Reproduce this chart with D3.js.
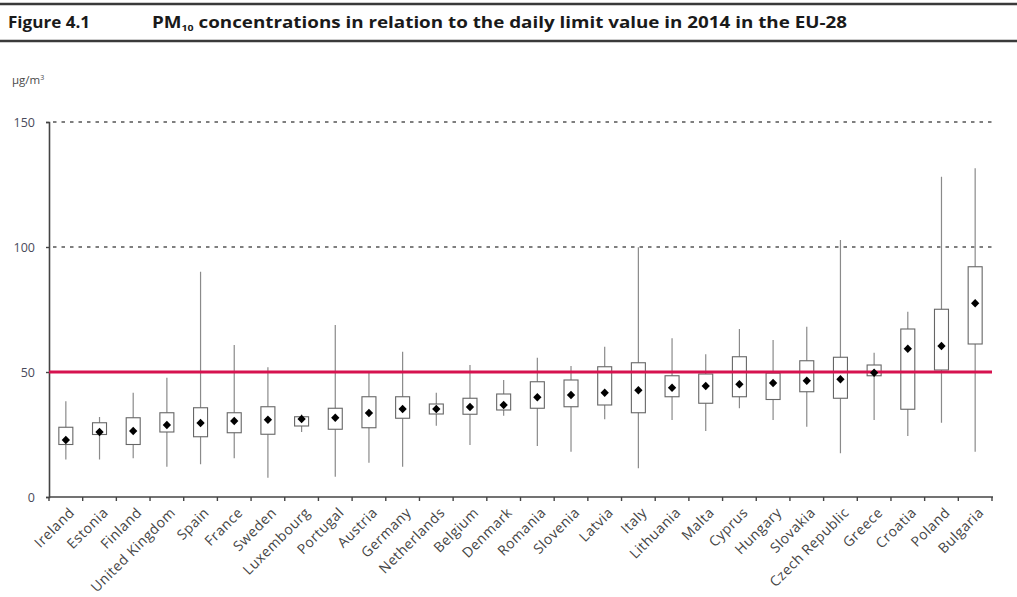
<!DOCTYPE html>
<html>
<head>
<meta charset="utf-8">
<script src="https://cdn.jsdelivr.net/npm/d3@7/dist/d3.min.js"></script>
<style>
  html, body { margin: 0; padding: 0; background: #fff; }
  svg { display: block; font-family: "Open Sans", "Noto Sans", sans-serif; }
</style>
</head>
<body>
<svg id="chart" width="1017" height="597"></svg>
<script>
// PM10 daily-limit statistics per member state, 2014 (µg/m³)
const countries = ["Ireland", "Estonia", "Finland", "United Kingdom", "Spain", "France", "Sweden",
  "Luxembourg", "Portugal", "Austria", "Germany", "Netherlands", "Belgium", "Denmark", "Romania",
  "Slovenia", "Latvia", "Italy", "Lithuania", "Malta", "Cyprus", "Hungary", "Slovakia",
  "Czech Republic", "Greece", "Croatia", "Poland", "Bulgaria"];
const minValues    = [15, 15, 15.5, 12.1, 13.1, 15.5, 7.7, 26, 8.1, 13.7, 12.1, 28.5, 20.8, 32.5, 20.4,
  18.1, 31.1, 11.5, 30.8, 26.4, 35.5, 30.8, 28.1, 17.5, 30.8, 24.4, 29.7, 18.1];
const p25Values    = [21, 25, 21, 26, 24.1, 25.7, 25.1, 28.4, 27.1, 27.7, 31.5, 33.2, 33.1, 34.8, 35.5,
  36.1, 36.8, 33.7, 40.1, 37.5, 40.1, 39, 42.1, 39.5, 48.5, 35.1, 50.8, 61.2];
const medianValues = [22.8, 26, 26.4, 28.8, 29.6, 30.4, 30.9, 31.2, 31.7, 33.6, 35.2, 35.2, 36, 36.8, 39.9,
  40.8, 41.7, 42.7, 43.7, 44.4, 45.1, 45.6, 46.5, 47.1, 49.7, 59.3, 60.4, 77.5];
const p75Values    = [27.9, 29.7, 31.7, 33.7, 35.7, 33.7, 36.1, 32.1, 35.5, 40.1, 40.1, 37.2, 39.5, 41.2, 46.1,
  46.8, 52.1, 53.7, 48.5, 49.2, 56.1, 49.6, 54.5, 55.9, 52.8, 67.2, 75.1, 92.1];
const maxValues    = [38.3, 32, 41.7, 47.7, 90.1, 60.8, 51.9, 33, 68.8, 50.1, 58.1, 41.7, 52.8, 46.8, 55.7,
  52.4, 60.1, 99.9, 63.5, 57.1, 67.2, 62.8, 68.1, 102.8, 57.7, 74.1, 128.1, 131.5];
const yTicks = [0, 50, 100, 150];
const gridValues = [100, 150];
const limitValue = 50;

const rows = countries.map((c, i) => ({
  country: c, min: minValues[i], p25: p25Values[i], median: medianValues[i],
  p75: p75Values[i], max: maxValues[i]
}));

const svg = d3.select("#chart");
const plot = { left: 49, right: 992, top: 122, bottom: 497 };

const x = d3.scaleBand().domain(countries).range([plot.left, plot.right]).padding(0);
const y = d3.scaleLinear().domain([0, 150]).range([plot.bottom, plot.top]);

// header rules and title
svg.append("line").attr("x1", 0).attr("x2", 1017).attr("y1", 4).attr("y2", 4)
  .attr("stroke", "#3a3a3a").attr("stroke-width", 2.5);
svg.append("line").attr("x1", 0).attr("x2", 1017).attr("y1", 41).attr("y2", 41)
  .attr("stroke", "#3a3a3a").attr("stroke-width", 2.5);
svg.append("text").attr("x", 8).attr("y", 28)
  .attr("font-size", 16).attr("font-weight", 700).attr("fill", "#1a1a1a")
  .attr("textLength", 82).attr("lengthAdjust", "spacingAndGlyphs")
  .text("Figure 4.1");
const title = svg.append("text").attr("x", 152).attr("y", 28)
  .attr("font-size", 16).attr("font-weight", 700).attr("fill", "#1a1a1a")
  .attr("textLength", 695).attr("lengthAdjust", "spacingAndGlyphs");
title.append("tspan").text("PM");
title.append("tspan").attr("font-size", 9).attr("dy", 3).text("10");
title.append("tspan").attr("dy", -3).text(" concentrations in relation to the daily limit value in 2014 in the EU-28");

// unit label
const unit = svg.append("text").attr("x", 12).attr("y", 84)
  .attr("font-size", 11.5).attr("fill", "#4a4a4a");
unit.append("tspan").text("µg/m");
unit.append("tspan").attr("font-size", 7).attr("dy", -4).text("3");

// dashed reference lines
svg.append("g").selectAll("line").data(gridValues).join("line")
  .attr("x1", plot.left + 4).attr("x2", plot.right)
  .attr("y1", d => y(d)).attr("y2", d => y(d))
  .attr("stroke", "#555").attr("stroke-width", 1.3).attr("stroke-dasharray", "3.5,5");

// y axis
const yAxis = svg.append("g").attr("transform", `translate(${plot.left},0)`)
  .call(d3.axisLeft(y).tickValues(yTicks).tickSize(3).tickPadding(11));
yAxis.select(".domain").attr("stroke", "#444").attr("stroke-width", 1.6);
yAxis.selectAll(".tick line").attr("stroke", "#444").attr("stroke-width", 1.4);
yAxis.selectAll(".tick text").attr("font-size", 12.5).attr("fill", "#4a4a5a")
  .attr("font-family", "'Open Sans', sans-serif");

// x axis with ticks at category boundaries
const xAxis = svg.append("g").attr("transform", `translate(0,${plot.bottom})`);
xAxis.append("line").attr("x1", plot.left).attr("x2", plot.right + 1)
  .attr("stroke", "#444").attr("stroke-width", 1.6);
const boundaries = countries.map(c => x(c)).concat([x.range()[1]]);
xAxis.selectAll("line.tick").data(boundaries).join("line").attr("class", "tick")
  .attr("x1", d => d).attr("x2", d => d).attr("y1", 0).attr("y2", 4)
  .attr("stroke", "#444").attr("stroke-width", 1.4);
xAxis.selectAll("text").data(countries).join("text")
  .attr("transform", d => `translate(${x(d) + x.bandwidth() / 2 + 6},${13}) rotate(-45)`)
  .attr("text-anchor", "end").attr("dy", "0.35em")
  .attr("font-size", 14).attr("letter-spacing", 0.5).attr("fill", "#454545")
  .text(d => d);

// whiskers
const cx = d => x(d.country) + x.bandwidth() / 2;
svg.append("g").selectAll("line").data(rows).join("line")
  .attr("x1", cx).attr("x2", cx)
  .attr("y1", d => y(d.min)).attr("y2", d => y(d.max))
  .attr("stroke", "#8a8a8a").attr("stroke-width", 1.2);

// boxes
const boxW = 14;
svg.append("g").selectAll("rect").data(rows).join("rect")
  .attr("x", d => cx(d) - boxW / 2).attr("width", boxW)
  .attr("y", d => y(d.p75)).attr("height", d => y(d.p25) - y(d.p75))
  .attr("fill", "#fff").attr("stroke", "#666").attr("stroke-width", 1.1);

// daily limit value
svg.append("line").attr("x1", plot.left).attr("x2", plot.right)
  .attr("y1", y(limitValue)).attr("y2", y(limitValue))
  .attr("stroke", "#d6124f").attr("stroke-width", 3.2);

// median markers
const diamond = d3.symbol().type(d3.symbolDiamond2).size(44);
svg.append("g").selectAll("path").data(rows).join("path")
  .attr("transform", d => `translate(${cx(d)},${y(d.median)})`)
  .attr("d", diamond).attr("fill", "#000");
</script>
</body>
</html>
